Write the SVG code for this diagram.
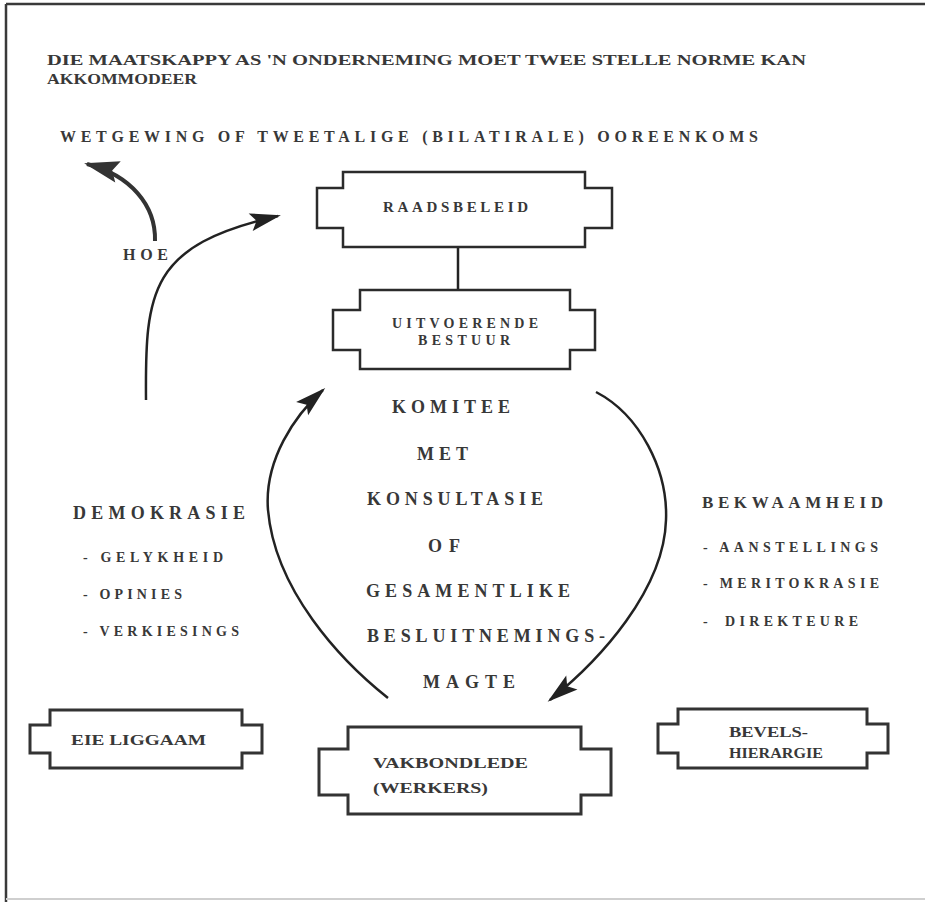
<svg xmlns="http://www.w3.org/2000/svg" width="925" height="902" viewBox="0 0 925 902">
<style>
  .bg { fill: #ffffff; }
  .frame { stroke: #3a3a3a; stroke-width: 2.5; fill: none; }
  .box { fill: #ffffff; stroke: #2b2b2b; stroke-width: 2.5; }
  .boxb { fill: #ffffff; stroke: #333333; stroke-width: 3; }
  .t { font-family: "Liberation Serif", "Times New Roman", serif; font-weight: bold; fill: #383838; }
  .line { fill: none; stroke: #222222; stroke-width: 2.5; }
  .thick { fill: none; stroke: #333333; stroke-width: 4; }
</style>
<defs>
  <marker id="ah" markerUnits="userSpaceOnUse" markerWidth="40" markerHeight="24" viewBox="-32 -12 40 24" refX="0" refY="0" orient="auto">
    <path d="M3,0 L-28,-9 L-22,0 L-28,9 Z" fill="#222222"/>
  </marker>
  <marker id="ahb" markerUnits="userSpaceOnUse" markerWidth="44" markerHeight="28" viewBox="-36 -14 44 28" refX="0" refY="0" orient="auto">
    <path d="M3,0 L-32,-11 L-26,0 L-32,11 Z" fill="#333333"/>
  </marker>
</defs>
<rect class="bg" x="0" y="0" width="925" height="902"/>
<g id="frame">
  <line class="frame" x1="6" y1="4" x2="925" y2="4"/>
  <line class="frame" x1="6" y1="4" x2="6" y2="902"/>
  <line x1="6" y1="899" x2="925" y2="899" stroke="#cfcfcf" stroke-width="2"/>
</g>
<g id="title">
  <text class="t" x="47" y="65" font-size="15" textLength="759" lengthAdjust="spacingAndGlyphs">DIE MAATSKAPPY AS 'N ONDERNEMING MOET TWEE STELLE NORME KAN</text>
  <text class="t" x="47" y="84" font-size="15" textLength="150" lengthAdjust="spacingAndGlyphs">AKKOMMODEER</text>
  <text class="t" x="60" y="142" font-size="16" textLength="698" lengthAdjust="spacing">WETGEWING OF TWEETALIGE (BILATIRALE) OOREENKOMS</text>
</g>
<g id="connectors">
  <line class="line" x1="458" y1="247" x2="458" y2="290"/>
  <path class="thick" d="M155,241 C156,205 130,175 87,164" marker-end="url(#ahb)"/>
  <path class="line" d="M146,400 C145,290 150,245 278,216" marker-end="url(#ah)"/>
  <path class="line" d="M388,698 C340,660 275,590 268,510 C264,460 295,415 323,390" marker-end="url(#ah)"/>
  <path class="line" d="M596,392 C640,415 668,470 666,520 C664,590 600,660 550,700" marker-end="url(#ah)"/>
</g>
<g id="hoe">
  <text class="t" x="123" y="260" font-size="16" textLength="45" lengthAdjust="spacing">HOE</text>
</g>
<g id="raadsbeleid">
  <path class="box" d="M343,172 H585 V188 H612 V228 H585 V247 H343 V228 H317 V188 H343 Z"/>
  <text class="t" x="383" y="212" font-size="15" textLength="145" lengthAdjust="spacing">RAADSBELEID</text>
</g>
<g id="uitvoerende">
  <path class="box" d="M360,290 H570 V310 H595 V350 H570 V369 H360 V350 H333 V310 H360 Z"/>
  <text class="t" x="392" y="328" font-size="14" textLength="146" lengthAdjust="spacing">UITVOERENDE</text>
  <text class="t" x="418" y="345" font-size="14" textLength="92" lengthAdjust="spacing">BESTUUR</text>
</g>
<g id="komitee">
  <text class="t" x="392" y="413" font-size="18" textLength="118" lengthAdjust="spacing">KOMITEE</text>
  <text class="t" x="417" y="460" font-size="18" textLength="51" lengthAdjust="spacing">MET</text>
  <text class="t" x="367" y="505" font-size="18" textLength="176" lengthAdjust="spacing">KONSULTASIE</text>
  <text class="t" x="428" y="552" font-size="18" textLength="32" lengthAdjust="spacing">OF</text>
  <text class="t" x="366" y="597" font-size="18" textLength="204" lengthAdjust="spacing">GESAMENTLIKE</text>
  <text class="t" x="367" y="642" font-size="18" textLength="238" lengthAdjust="spacing">BESLUITNEMINGS-</text>
  <text class="t" x="423" y="688" font-size="18" textLength="92" lengthAdjust="spacing">MAGTE</text>
</g>
<g id="demokrasie">
  <text class="t" x="73" y="519" font-size="18" textLength="172" lengthAdjust="spacing">DEMOKRASIE</text>
  <text class="t" x="83" y="562" font-size="14" textLength="140" lengthAdjust="spacing">- GELYKHEID</text>
  <text class="t" x="83" y="599" font-size="14" textLength="99" lengthAdjust="spacing">- OPINIES</text>
  <text class="t" x="83" y="636" font-size="14" textLength="156" lengthAdjust="spacing">- VERKIESINGS</text>
</g>
<g id="bekwaamheid">
  <text class="t" x="702" y="508" font-size="17" textLength="181" lengthAdjust="spacing">BEKWAAMHEID</text>
  <text class="t" x="703" y="552" font-size="14" textLength="175" lengthAdjust="spacing">- AANSTELLINGS</text>
  <text class="t" x="703" y="588" font-size="14" textLength="176" lengthAdjust="spacing">- MERITOKRASIE</text>
  <text class="t" x="703" y="626" font-size="14">-</text>
  <text class="t" x="725" y="626" font-size="14" textLength="133" lengthAdjust="spacing">DIREKTEURE</text>
</g>
<g id="eie-liggaam">
  <path class="boxb" d="M50,710 H242 V725 H262 V753 H242 V768 H50 V753 H30 V725 H50 Z"/>
  <text class="t" x="71" y="745" font-size="15" textLength="135" lengthAdjust="spacingAndGlyphs">EIE LIGGAAM</text>
</g>
<g id="vakbondlede">
  <path class="boxb" d="M348,727 H581 V749 H611 V795 H581 V814 H348 V795 H319 V749 H348 Z"/>
  <text class="t" x="373" y="768" font-size="15" textLength="155" lengthAdjust="spacingAndGlyphs">VAKBONDLEDE</text>
  <text class="t" x="373" y="793" font-size="15" textLength="115" lengthAdjust="spacingAndGlyphs">(WERKERS)</text>
</g>
<g id="bevels">
  <path class="boxb" d="M678,709 H867 V724 H888 V753 H867 V768 H678 V753 H658 V724 H678 Z"/>
  <text class="t" x="729" y="737" font-size="15" textLength="79" lengthAdjust="spacingAndGlyphs">BEVELS-</text>
  <text class="t" x="729" y="758" font-size="15" textLength="94" lengthAdjust="spacingAndGlyphs">HIERARGIE</text>
</g>
</svg>
